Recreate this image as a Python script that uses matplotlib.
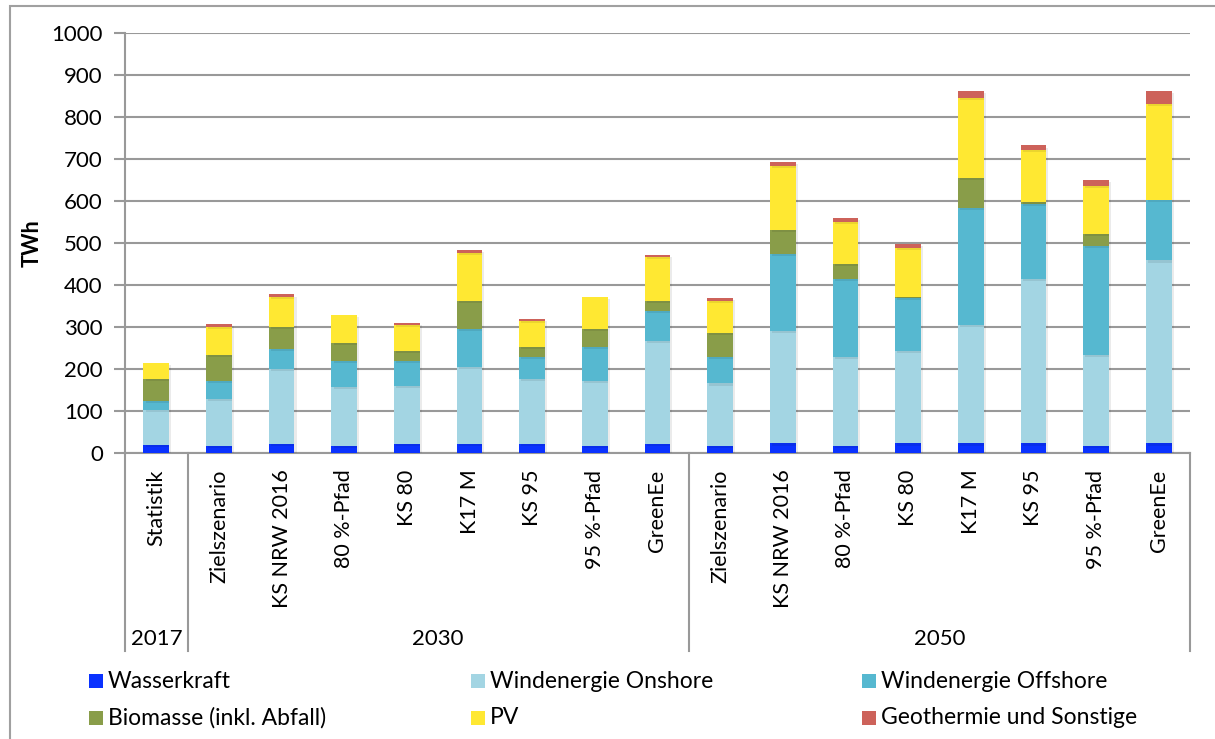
import matplotlib.pyplot as plt
import matplotlib.patheffects as pe
from matplotlib.patches import Rectangle
from matplotlib.lines import Line2D
import numpy as np

plt.rcParams['font.family'] = ['Lato', 'DejaVu Sans']

# Stromerzeugung aus erneuerbaren Energien je Szenario (TWh)
szenarien = ['Statistik',
             'Zielszenario', 'KS NRW 2016', '80 %-Pfad', 'KS 80', 'K17 M', 'KS 95', '95 %-Pfad', 'GreenEe',
             'Zielszenario', 'KS NRW 2016', '80 %-Pfad', 'KS 80', 'K17 M', 'KS 95', '95 %-Pfad', 'GreenEe']
jahre = ['2017', '2030', '2050']
jahr_anzahl = [1, 8, 8]

wasserkraft = [18, 17, 21, 17, 21, 21, 21, 17, 21, 17, 22, 17, 22, 22, 22, 17, 22]
wind_onshore = [84, 110, 178, 139, 139, 183, 154, 153, 246, 148, 268, 212, 221, 282, 392, 216, 436]
wind_offshore = [21, 44, 48, 62, 58, 91, 53, 82, 70, 63, 184, 185, 125, 279, 178, 259, 144]
biomasse = [52, 62, 53, 44, 25, 67, 24, 43, 25, 57, 56, 35, 3, 72, 5, 29, 0]
pv = [39, 66, 71, 67, 61, 114, 62, 76, 105, 77, 153, 100, 116, 191, 124, 115, 229]
geothermie = [0, 7, 6, 0, 6, 6, 5, 0, 5, 6, 10, 10, 10, 15, 11, 14, 30]

serien = [
    ('Wasserkraft', wasserkraft, '#0a32ff'),
    ('Windenergie Onshore', wind_onshore, '#a3d5e3'),
    ('Windenergie Offshore', wind_offshore, '#56b8d0'),
    ('Biomasse (inkl. Abfall)', biomasse, '#899d49'),
    ('PV', pv, '#ffe832'),
    ('Geothermie und Sonstige', geothermie, '#cd625a'),
]

W, H = 1215, 739
fig = plt.figure(figsize=(W / 100, H / 100), dpi=100)

# Rahmen um das ganze Diagramm
fig.patches.append(Rectangle((10 / W, -0.05), 1.1, 1 - 6 / H + 0.05, transform=fig.transFigure,
                             fill=False, edgecolor='#a0a0a0', linewidth=1.5))

ax_l, ax_r, ax_b, ax_t = 125, 1190, 452.7, 33
ax = fig.add_axes([ax_l / W, 1 - ax_b / H, (ax_r - ax_l) / W, (ax_b - ax_t) / H])

x = np.arange(len(szenarien))
unten = np.zeros(len(szenarien))
schatten = [pe.SimplePatchShadow(offset=(1.5, -1.5), shadow_rgbFace='#000000', alpha=0.08), pe.Normal()]
for name, werte, farbe in serien:
    werte = np.array(werte, dtype=float)
    bars = ax.bar(x, werte, bottom=unten, width=0.41, color=farbe, linewidth=0, zorder=3)
    for b in bars:
        b.set_path_effects(schatten)
    unten += werte

ax.set_xlim(-0.5, len(szenarien) - 0.5)
ax.set_ylim(0, 1000)
ax.set_yticks(range(0, 1001, 100))
ax.tick_params(axis='y', labelsize=16, length=8, width=1.5, color='#999999', pad=8)
ax.set_xticks([])
ax.grid(axis='y', color='#999999', linewidth=1.5, zorder=0)
for s in ['top', 'right']:
    ax.spines[s].set_visible(False)
for s in ['left', 'bottom']:
    ax.spines[s].set_color('#999999')
    ax.spines[s].set_linewidth(1.5)
ax.set_ylabel('TWh', fontsize=15.5, fontweight='bold')
ax.yaxis.set_label_coords(-0.077, 0.5)

# Szenarionamen senkrecht unter den Balken
for i, name in enumerate(szenarien):
    ax.annotate(name, xy=(i, 0), xycoords=('data', 'axes fraction'), xytext=(0, -17),
                textcoords='offset pixels', rotation=90, ha='center', va='top', fontsize=15.5)

# Jahresgruppen mit Trennlinien
grenzen = np.concatenate([[0], np.cumsum(jahr_anzahl)]) - 0.5
lin_unten = -(651 - ax_b) / (ax_b - ax_t)
for g in grenzen:
    ax.add_line(Line2D([g, g], [0, lin_unten], transform=ax.get_xaxis_transform(),
                       color='#999999', linewidth=1.5, clip_on=False))
for jahr, a, b in zip(jahre, grenzen[:-1], grenzen[1:]):
    ax.text((a + b) / 2, -(639 - ax_b) / (ax_b - ax_t), jahr, transform=ax.get_xaxis_transform(),
            ha='center', va='center', fontsize=16)

# Legende in drei Spalten
spalten_x = [89, 471, 862]
zeilen_y = [681, 718]
for k, (name, _, farbe) in enumerate(serien):
    sx = spalten_x[k % 3]
    sy = zeilen_y[k // 3]
    fig.patches.append(Rectangle((sx / W, 1 - (sy + 7) / H), 14 / W, 14 / H,
                                 transform=fig.transFigure, facecolor=farbe, edgecolor='none'))
    fig.text((sx + 19) / W, 1 - sy / H, name, ha='left', va='center', fontsize=16.5)

fig.savefig('out.png', dpi=100)
